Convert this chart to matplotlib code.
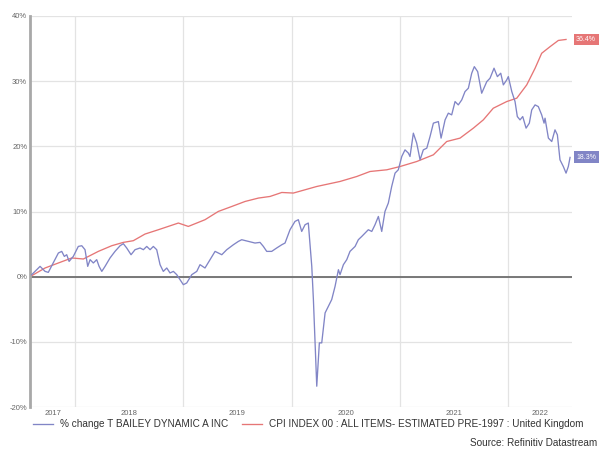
import matplotlib
matplotlib.use("Agg")
import matplotlib.pyplot as plt
import numpy as np

plt.rcParams['font.family'] = ['Liberation Sans', 'DejaVu Sans']

# decimal-year positions and % values
fund_t = [2017.600, 2017.677, 2017.723, 2017.753, 2017.800, 2017.846, 2017.877, 2017.901, 2017.923, 2017.945,
          2017.984, 2018.030, 2018.062, 2018.092, 2018.117, 2018.139, 2018.169, 2018.200, 2018.222, 2018.247,
          2018.277, 2018.323, 2018.369, 2018.416, 2018.446, 2018.477, 2018.517, 2018.554, 2018.600, 2018.631,
          2018.662, 2018.693, 2018.723, 2018.754, 2018.785, 2018.815, 2018.847, 2018.877, 2018.908, 2018.939,
          2018.970, 2019.000, 2019.031, 2019.078, 2019.124, 2019.154, 2019.200, 2019.247, 2019.293, 2019.355,
          2019.401, 2019.462, 2019.508, 2019.539, 2019.600, 2019.662, 2019.708, 2019.739, 2019.770, 2019.816,
          2019.862, 2019.909, 2019.939, 2019.985, 2020.031, 2020.062, 2020.093, 2020.124, 2020.154, 2020.186,
          2020.201, 2020.216, 2020.232, 2020.256, 2020.278, 2020.309, 2020.339, 2020.370, 2020.401, 2020.432,
          2020.447, 2020.478, 2020.509, 2020.539, 2020.586, 2020.616, 2020.648, 2020.678, 2020.708, 2020.740,
          2020.770, 2020.801, 2020.832, 2020.862, 2020.893, 2020.924, 2020.955, 2020.985, 2021.017, 2021.047,
          2021.078, 2021.093, 2021.124, 2021.155, 2021.186, 2021.216, 2021.248, 2021.278, 2021.309, 2021.355,
          2021.380, 2021.417, 2021.447, 2021.478, 2021.509, 2021.539, 2021.571, 2021.601, 2021.632, 2021.663,
          2021.687, 2021.718, 2021.755, 2021.802, 2021.832, 2021.869, 2021.900, 2021.931, 2021.955, 2021.986,
          2022.001, 2022.033, 2022.063, 2022.084, 2022.109, 2022.134, 2022.165, 2022.195, 2022.217, 2022.248,
          2022.278, 2022.309, 2022.331, 2022.340, 2022.371, 2022.402, 2022.432, 2022.454, 2022.478, 2022.509,
          2022.534, 2022.555, 2022.571]
fund_v = [0.31, 1.58, 0.81, 0.66, 2.15, 3.63, 3.88, 3.11, 3.37, 2.34,
          3.11, 4.64, 4.75, 4.14, 1.58, 2.61, 2.10, 2.61, 1.58, 0.81,
          1.58, 2.87, 3.88, 4.75, 5.06, 4.40, 3.37, 4.14, 4.40, 4.14,
          4.64, 4.14, 4.64, 4.14, 1.84, 0.81, 1.33, 0.57, 0.81, 0.31,
          -0.46, -1.23, -0.97, 0.31, 0.81, 1.84, 1.33, 2.61, 3.88, 3.37,
          4.14, 4.90, 5.41, 5.67, 5.41, 5.16, 5.26, 4.64, 3.88, 3.88,
          4.40, 4.90, 5.16, 7.20, 8.48, 8.74, 6.94, 7.97, 8.23, 1.58,
          -3.52, -10.16, -16.81, -10.16, -10.16, -5.56, -4.55, -3.52, -1.49, 1.07,
          0.31, 1.84, 2.61, 3.88, 4.64, 5.67, 6.18, 6.70, 7.20, 6.94,
          7.97, 9.24, 6.94, 10.01, 11.30, 13.84, 15.89, 16.40, 18.44, 19.46,
          18.96, 18.44, 22.02, 20.49, 17.93, 19.46, 19.72, 21.50, 23.56, 23.80,
          21.26, 24.06, 25.09, 24.83, 26.87, 26.36, 27.13, 28.40, 28.92, 31.22,
          32.23, 31.46, 28.15, 29.93, 30.45, 31.99, 30.70, 31.22, 29.43, 30.19,
          30.70, 28.40, 26.87, 24.57, 24.06, 24.57, 22.79, 23.56, 25.59, 26.36,
          26.10, 24.83, 23.56, 24.32, 21.26, 20.74, 22.53, 21.76, 17.93, 16.90,
          15.89, 16.90, 18.30]

cpi_t = [2017.584, 2017.723, 2017.846, 2017.970, 2018.077, 2018.215, 2018.339, 2018.446, 2018.538, 2018.646,
         2018.769, 2018.954, 2019.046, 2019.200, 2019.323, 2019.447, 2019.570, 2019.693, 2019.801, 2019.909,
         2020.016, 2020.232, 2020.447, 2020.601, 2020.724, 2020.879, 2021.001, 2021.155, 2021.309, 2021.432,
         2021.555, 2021.678, 2021.770, 2021.862, 2021.986, 2022.079, 2022.171, 2022.248, 2022.309, 2022.386,
         2022.463, 2022.534]
cpi_v = [0.0, 1.33, 2.10, 2.87, 2.71, 3.88, 4.75, 5.26, 5.52, 6.54,
         7.20, 8.23, 7.71, 8.74, 10.01, 10.77, 11.54, 12.06, 12.31, 12.92,
         12.83, 13.84, 14.61, 15.37, 16.14, 16.40, 16.90, 17.67, 18.70, 20.74,
         21.26, 22.79, 24.06, 25.85, 26.87, 27.39, 29.43, 31.98, 34.28, 35.29,
         36.25, 36.40]

year_labels = ['2017', '2018', '2019', '2020', '2021', '2022']
y_ticks = [-20, -10, 0, 10, 20, 30, 40]
fund_name = '% change T BAILEY DYNAMIC A INC'
cpi_name = 'CPI INDEX 00 : ALL ITEMS- ESTIMATED PRE-1997 : United Kingdom'
source = 'Source: Refinitiv Datastream'

BLUE = '#8185c6'
RED = '#e67676'

W, H = 599, 450
fig = plt.figure(figsize=(W / 100, H / 100), dpi=100)
ax = fig.add_axes([30 / W, 1 - 407 / H, (572 - 30) / W, (407 - 16) / H])

x0, x1 = 2017.584, 2022.589
ax.set_xlim(x0, x1)
ax.set_ylim(-20, 40)

# grid
ax.set_yticks(y_ticks)
ax.set_yticklabels([f'{v}%' for v in y_ticks])
ax.set_xticks([2018, 2019, 2020, 2021, 2022])
ax.set_xticklabels([])
label_pos = [(x0 + 2018) / 2, 2018.5, 2019.5, 2020.5, 2021.5, (2022 + x1) / 2]
ax.set_xticks(label_pos, minor=True)
ax.set_xticklabels(year_labels, minor=True)
ax.grid(True, which='major', color='#e3e3e3', lw=0.9)
ax.set_axisbelow(True)
ax.tick_params(which='both', length=0, labelsize=5.5, labelcolor='#666666')
ax.tick_params(axis='x', which='minor', pad=2.5)
ax.tick_params(axis='y', pad=2)

for s in ['top', 'right', 'bottom']:
    ax.spines[s].set_visible(False)
ax.spines['left'].set_color('#a8a8a8')
ax.spines['left'].set_linewidth(2)

ax.axhline(0, color='#6e6e6e', lw=1.3, zorder=1)

ax.plot(fund_t, fund_v, color=BLUE, lw=0.95, label=fund_name, zorder=3)
ax.plot(cpi_t, cpi_v, color=RED, lw=0.95, label=cpi_name, zorder=2)

# end labels
ax.annotate(f'{cpi_v[-1]:.1f}%', xy=(1.0, cpi_v[-1]), xycoords=('axes fraction', 'data'),
            xytext=(3, 0), textcoords='offset points', ha='left', va='center',
            fontsize=5, color='white',
            bbox=dict(boxstyle='square,pad=0.35', fc=RED, ec='none'))
ax.annotate(f'{fund_v[-1]:.1f}%', xy=(1.0, fund_v[-1]), xycoords=('axes fraction', 'data'),
            xytext=(3, 0), textcoords='offset points', ha='left', va='center',
            fontsize=5, color='white',
            bbox=dict(boxstyle='square,pad=0.35', fc=BLUE, ec='none'))

fig.legend(loc='center left', bbox_to_anchor=(33 / W, 1 - 424 / H), ncol=2, frameon=False,
           fontsize=7.2, handlelength=2.0, handletextpad=0.75, columnspacing=1.3,
           borderpad=0, borderaxespad=0, labelcolor='#333333')

fig.text(597 / W, 1 - 443 / H, source, ha='right', va='center', fontsize=7.2, color='#333333')

fig.savefig('out.png', dpi=100)
